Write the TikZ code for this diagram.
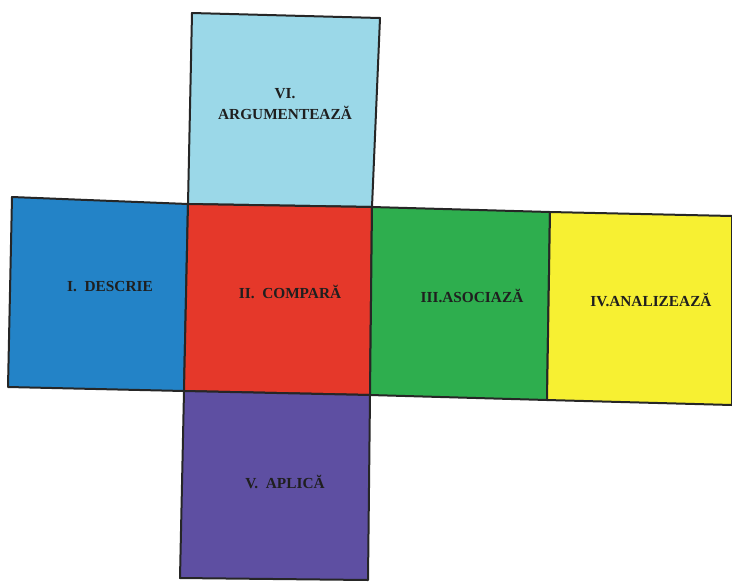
\documentclass[tikz,border=0pt]{standalone}
\usepackage{fontspec}
\setmainfont{Liberation Serif}
\definecolor{cLight}{HTML}{9BD8E8}
\definecolor{cBlue}{HTML}{2383C7}
\definecolor{cRed}{HTML}{E5382A}
\definecolor{cGreen}{HTML}{2EAE4E}
\definecolor{cYellow}{HTML}{F7F032}
\definecolor{cPurple}{HTML}{5E4FA2}
\tikzset{
  face/.style={draw=black!85, line width=1.5pt, line join=round},
  lbl/.style={font=\fontsize{11.5}{16}\selectfont\bfseries, text=black!88, align=center, inner sep=0pt}
}
\begin{document}
\begin{tikzpicture}[x=0.75pt,y=-0.75pt]
\useasboundingbox (0,0) rectangle (732,583);
% corner coordinates
\coordinate (t1) at (192,13);
\coordinate (t2) at (380,18);
\coordinate (a1) at (12,197);
\coordinate (a2) at (188,204);
\coordinate (a3) at (372,207);
\coordinate (a4) at (550,212);
\coordinate (a5) at (732,216);
\coordinate (b1) at (8,387);
\coordinate (b2) at (184,391);
\coordinate (b3) at (370,395);
\coordinate (b4) at (547,400);
\coordinate (b5) at (732,405);
\coordinate (p1) at (180,578);
\coordinate (p2) at (368,580);
% faces
\draw[face, fill=cLight]  (t1) -- (t2) -- (a3) -- (a2) -- cycle;
\draw[face, fill=cBlue]   (a1) -- (a2) -- (b2) -- (b1) -- cycle;
\draw[face, fill=cRed]    (a2) -- (a3) -- (b3) -- (b2) -- cycle;
\draw[face, fill=cGreen]  (a3) -- (a4) -- (b4) -- (b3) -- cycle;
\draw[face, fill=cYellow] (a4) -- (a5) -- (b5) -- (b4) -- cycle;
\draw[face, fill=cPurple] (b2) -- (b3) -- (p2) -- (p1) -- cycle;
% labels
\node[lbl] (vi)  at (285,104) {VI.\\ARGUMENTEAZĂ};
\node[lbl] (i)   at (110,287) {I.\ \ DESCRIE};
\node[lbl] (ii)  at (290,292) {II.\ \ COMPARĂ};
\node[lbl] (iii) at (472,296) {III.ASOCIAZĂ};
\node[lbl] (iv)  at (651,300) {IV.ANALIZEAZĂ};
\node[lbl] (v)   at (285,482) {V.\ \ APLICĂ};
\end{tikzpicture}
\end{document}
